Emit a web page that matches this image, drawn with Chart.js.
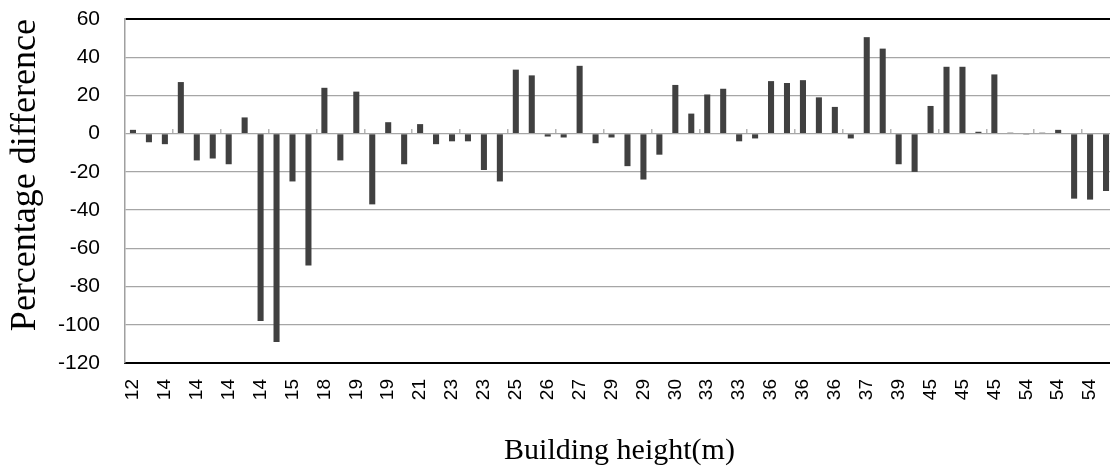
<!DOCTYPE html>
<html>
<head>
<meta charset="utf-8">
<script src="https://cdn.jsdelivr.net/npm/chart.js@4/dist/chart.umd.min.js"></script>
<style>
  html, body { margin: 0; padding: 0; background: #fff; overflow: hidden; }
  #wrap { width: 1116px; height: 470px; position: relative; }
</style>
</head>
<body>
<div id="wrap"><canvas id="c"></canvas></div>
<script>
// Visible tick labels (every other category is labelled)
const tickLabels = ['12','14','14','14','14','15','18','19','19','21','23','23','25','26','27','29','29','30','33','33','36','36','36','37','39','45','45','45','54','54','54'];

// Percentage difference per building (62 bars)
const diffValues = [
  2, -4.5, -5.5, 27, -14, -13, -16, 8.5, -98, -109,
  -25, -69, 24, -14, 22, -37, 6, -16, 5, -5.5,
  -4, -4, -19, -25, 33.5, 30.5, -1.5, -2, 35.5, -5,
  -2, -17, -24, -11, 25.5, 10.5, 20.5, 23.5, -4, -2.5,
  27.5, 26.5, 28, 19, 14, -2.5, 50.5, 44.5, -16, -20,
  14.5, 35, 35, 1, 31, 0.5, -0.5, 0.5, 2, -34,
  -34.5, -30
];

const yMin = -120, yMax = 60, yStep = 20;

// categories: each visible label followed by an unlabelled category
const categories = [];
tickLabels.forEach(l => { categories.push(l); categories.push(''); });

function noPad(scale) {
  scale.paddingLeft = 0; scale.paddingRight = 0;
  scale.paddingTop = 0; scale.paddingBottom = 0;
}

new Chart(document.getElementById('c'), {
  type: 'bar',
  data: {
    labels: categories,
    datasets: [{
      data: diffValues,
      backgroundColor: '#404040',
      borderWidth: 0,
      categoryPercentage: 1.0,
      barPercentage: 0.38
    }]
  },
  options: {
    responsive: true,
    maintainAspectRatio: false,
    animation: false,
    layout: { padding: { top: 19, right: 2, bottom: 0, left: 0 } },
    plugins: { legend: { display: false }, tooltip: { enabled: false } },
    scales: {
      x: {
        type: 'category',
        offset: true,
        afterFit: (s) => { noPad(s); s.height = 107; },
        grid: { display: true, drawOnChartArea: false, drawTicks: false },
        border: { display: true, color: '#000', width: 2 },
        ticks: {
          autoSkip: false,
          maxRotation: 90,
          minRotation: 90,
          padding: 16,
          color: '#000',
          font: { family: 'Liberation Sans', size: 19 }
        },
        title: {
          display: true,
          text: 'Building height(m)',
          color: '#000',
          font: { family: 'Liberation Serif', size: 30 },
          padding: { top: 30, bottom: 1 }
        }
      },
      x2: {
        type: 'category',
        position: { y: 0 },
        offset: true,
        afterFit: (s) => { noPad(s); },
        grid: {
          display: true,
          offset: true,
          drawOnChartArea: false,
          drawTicks: true,
          tickLength: -5,
          lineWidth: 1.5,
          color: (ctx) => (ctx.index > 0 && ctx.index % 3 === 0) ? '#b4b4b4' : 'rgba(0,0,0,0)'
        },
        border: { display: false },
        ticks: { display: false, autoSkip: false }
      },
      y: {
        min: yMin,
        max: yMax,
        afterFit: (s) => { noPad(s); s.width = 125; },
        ticks: {
          stepSize: yStep,
          padding: 25,
          color: '#000',
          font: { family: 'Liberation Sans', size: 21 }
        },
        grid: {
          drawTicks: false,
          color: (ctx) => (ctx.tick && ctx.tick.value === yMax) ? '#000' : '#a6a6a6',
          lineWidth: (ctx) => (ctx.tick && ctx.tick.value === yMax) ? 2 : 1.3
        },
        border: { display: true, color: '#a0a0a0', width: 1.5 },
        title: {
          display: true,
          text: 'Percentage difference',
          align: 'end',
          color: '#000',
          font: { family: 'Liberation Serif', size: 36 },
          padding: { top: 4, bottom: 4 }
        }
      }
    }
  }
});
</script>
</body>
</html>
